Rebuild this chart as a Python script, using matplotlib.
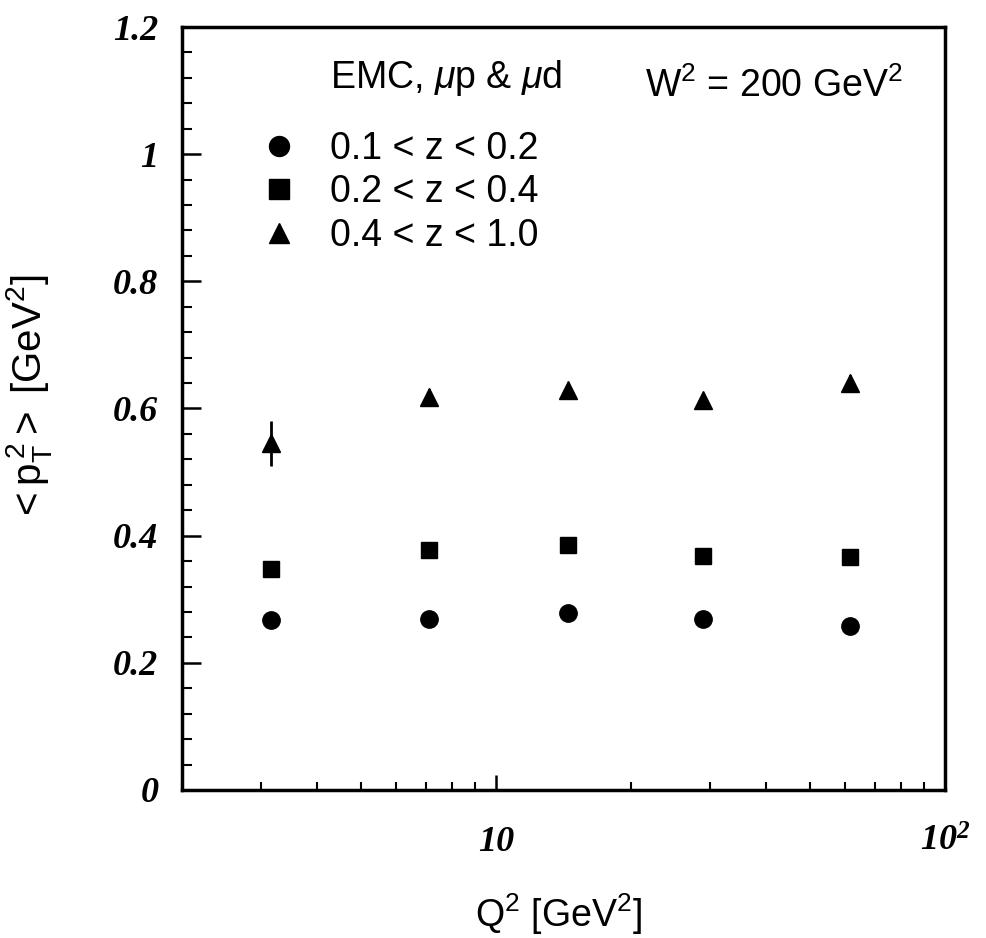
import numpy as np
import matplotlib.pyplot as plt
from matplotlib.ticker import LogLocator, MultipleLocator, NullFormatter, FixedLocator

plt.rcParams['font.family'] = ['Liberation Sans', 'DejaVu Sans']
plt.rcParams['mathtext.fontset'] = 'custom'
plt.rcParams['mathtext.rm'] = 'Liberation Sans'
plt.rcParams['mathtext.it'] = 'Liberation Sans:italic'
plt.rcParams['mathtext.bf'] = 'Liberation Sans:bold'
plt.rcParams['mathtext.bfit'] = 'Liberation Serif:bold:italic'

# data
q2 = [3.15, 7.1, 14.5, 28.9, 61.5]

pt2_low = [0.267, 0.269, 0.278, 0.269, 0.258]
err_low = [0.006, 0.006, 0.006, 0.006, 0.007]

pt2_mid = [0.348, 0.377, 0.385, 0.368, 0.366]
err_mid = [0.008, 0.008, 0.008, 0.008, 0.009]

pt2_high = [0.545, 0.618, 0.629, 0.613, 0.640]
err_high = [0.035, 0.012, 0.012, 0.010, 0.012]

labels = ["0.1 < z < 0.2", "0.2 < z < 0.4", "0.4 < z < 1.0"]

yticks = [0, 0.2, 0.4, 0.6, 0.8, 1.0, 1.2]
ytick_labels = ["0", "0.2", "0.4", "0.6", "0.8", "1", "1.2"]
xticks = [10, 100]
xtick_labels = ["10", r"$\mathbfit{10^{2}}$"]

fig = plt.figure(figsize=(9.87, 9.38), dpi=100)
ax = fig.add_axes([0.1844, 0.1578, 0.773, 0.8134])

series = [
    (pt2_low, err_low, "o", 12.5),
    (pt2_mid, err_mid, "s", 12),
    (pt2_high, err_high, "^", 12.5),
]
handles = []
for (vals, errs, mk, ms) in series:
    eb = ax.errorbar(q2, vals, yerr=errs, fmt=mk, color="black", ms=ms,
                     elinewidth=2, capsize=0)
    handles.append(eb.lines[0])

ax.set_xscale("log")
ax.set_xlim(2, 100)
ax.set_ylim(0, 1.2)

# ticks
ax.xaxis.set_major_locator(FixedLocator(xticks))
ax.xaxis.set_minor_locator(LogLocator(base=10, subs=np.arange(2, 10)))
ax.xaxis.set_minor_formatter(NullFormatter())
ax.yaxis.set_major_locator(FixedLocator(yticks))
ax.yaxis.set_minor_locator(MultipleLocator(0.04))

ax.set_xticklabels(xtick_labels, family="Liberation Serif", style="italic",
                   weight="bold", fontsize=26)
ax.set_yticklabels(ytick_labels, family="Liberation Serif", style="italic",
                   weight="bold", fontsize=26)

ax.tick_params(axis="both", which="both", direction="in", top=False, right=False)
ax.tick_params(axis="y", which="major", length=14, width=1.8, pad=17)
ax.tick_params(axis="y", which="minor", length=7, width=1.5)
ax.tick_params(axis="x", which="major", length=11, width=1.8, pad=26)
ax.tick_params(axis="x", which="minor", length=6, width=1.5)

for sp in ax.spines.values():
    sp.set_linewidth(2.5)

ax.set_xlabel(r"Q$^{2}$ [GeV$^{2}$]", fontsize=27)
ax.set_ylabel(r"$<\mathrm{p}_\mathrm{T}^{\,2}>$ [GeV$^{2}$]", fontsize=29)
ax.xaxis.set_label_coords(0.494, -0.133)
ax.yaxis.set_label_coords(-0.168, 0.514)

ax.text(0.194, 0.933, r"EMC, $\mu$p & $\mu$d", transform=ax.transAxes,
        fontsize=27, ha="left", va="center")
ax.text(0.607, 0.923, r"W$^{2}$ = 200 GeV$^{2}$", transform=ax.transAxes,
        fontsize=27, ha="left", va="center")

ax.legend(handles, labels, loc="upper left", bbox_to_anchor=(0.1025, 0.864),
          frameon=False, fontsize=27, handlelength=1.0, handletextpad=0.85,
          labelspacing=0.2, borderpad=0, borderaxespad=0, markerscale=1.15)

fig.savefig("out.png", dpi=100)
